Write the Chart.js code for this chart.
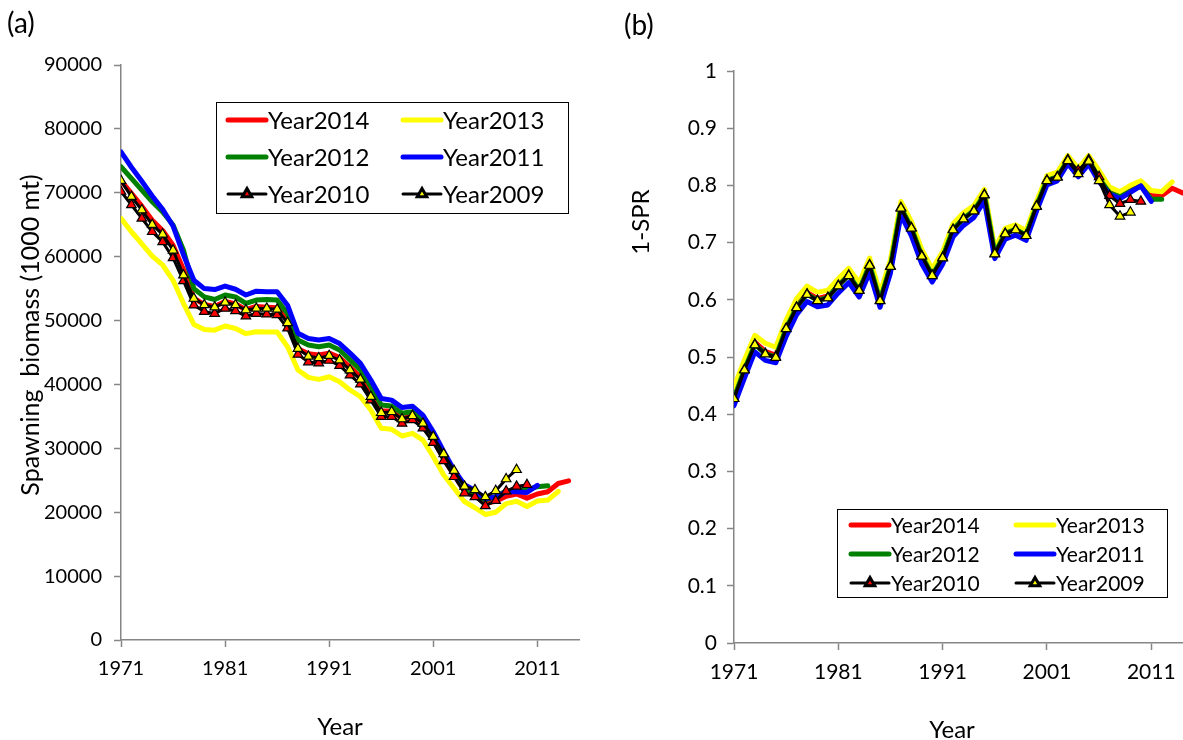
<!DOCTYPE html>
<html>
<head>
<meta charset="utf-8">
<title>Spawning biomass and 1-SPR by assessment year</title>
<script src="https://cdn.jsdelivr.net/npm/chart.js@4.4.1/dist/chart.umd.min.js"></script>
<style>
  html, body { margin: 0; padding: 0; background: #fff; overflow: hidden; }
  body { width: 1183px; height: 740px; position: relative; font-family: Lato, "Open Sans", sans-serif; color: #000; }
  canvas { position: absolute; top: 0; }
  #biomassChart { left: 0; }
  #sprChart { left: 600px; }
  .label { position: absolute; white-space: pre; line-height: 1; }
  .panel-tag { font-size: 28px; }
  .axis-title { font-size: 24px; transform: translate(-50%, -50%); }
  .axis-title.vertical { transform: translate(-50%, -50%) rotate(-90deg); }
</style>
</head>
<body>
<canvas id="biomassChart" width="600" height="740"></canvas>
<canvas id="sprChart" width="600" height="740"></canvas>
<div class="label panel-tag" style="left:7px;top:8px">(a)</div>
<div class="label panel-tag" style="left:624px;top:10px">(b)</div>
<div class="label axis-title vertical" style="left:29px;top:335px;font-size:25px">Spawning  biomass (1000 mt)</div>
<div class="label axis-title vertical" style="left:640px;top:222px">1-SPR</div>
<div class="label axis-title" style="left:340px;top:726px">Year</div>
<div class="label axis-title" style="left:952px;top:729px">Year</div>
<script>
const years = [
  1971, 1972, 1973, 1974, 1975, 1976, 1977, 1978, 1979, 1980,
  1981, 1982, 1983, 1984, 1985, 1986, 1987, 1988, 1989, 1990,
  1991, 1992, 1993, 1994, 1995, 1996, 1997, 1998, 1999, 2000,
  2001, 2002, 2003, 2004, 2005, 2006, 2007, 2008, 2009, 2010,
  2011, 2012, 2013, 2014,
];
const xTickYears = [1971, 1981, 1991, 2001, 2011];
const legendOrder = ["Year2014", "Year2013", "Year2012", "Year2011", "Year2010", "Year2009"];

// (a) spawning biomass, 1000 mt
const spawnY2014 = [
  71900, 69900, 67900, 65700, 64100, 61800, 58000, 53500, 52500, 52200,
  53000, 52600, 51700, 52200, 52100, 52000, 50000, 45600, 44800, 44600,
  44900, 44200, 42700, 41200, 38600, 35900, 35800, 34700, 35000, 33800,
  31300, 28400, 25800, 23400, 22600, 21400, 21700, 22500, 22850, 22200,
  22850, 23200, 24500, 24900,
];
const spawnY2013 = [
  66000, 63900, 62000, 60100, 58700, 56300, 52700, 49400, 48600, 48500,
  49150, 48750, 47950, 48250, 48200, 48200, 45900, 42260, 41110, 40800,
  41210, 40430, 39130, 38080, 35990, 33130, 32970, 31930, 32350, 31300,
  28690, 25820, 23740, 21650, 20700, 19650, 20000, 21350, 21700, 20900,
  21750, 21900, 23250,
];
const spawnY2012 = [
  74070, 72250, 70400, 68600, 67000, 64950, 61000, 55000, 53700, 53300,
  54000, 53700, 52700, 53200, 53300, 53200, 51100, 46950, 46170, 45900,
  46170, 45390, 43820, 42260, 39650, 36780, 36620, 35480, 35730, 34430,
  31820, 28800, 26080, 23740, 22950, 21910, 22500, 23300, 23400, 23500,
  24000, 24150,
];
const spawnY2011 = [
  76400, 74000, 71800, 69500, 67400, 64800, 60300, 56300, 55000, 54850,
  55400, 54900, 54000, 54600, 54500, 54500, 52400, 48000, 47200, 46950,
  47200, 46400, 44900, 43300, 40700, 37800, 37550, 36400, 36600, 35200,
  32600, 29500, 26600, 24300, 23400, 22100, 22400, 23200, 23200, 23100,
  24200,
];
const spawnY2010 = [
  70200, 68100, 66000, 63900, 62300, 59800, 56200, 52400, 51400, 51100,
  51900, 51500, 50700, 51100, 51000, 50900, 48800, 44700, 43500, 43350,
  43750, 42950, 41450, 40050, 37550, 34950, 34950, 33900, 34450, 33150,
  30900, 28050, 25550, 23000, 22400, 21000, 21800, 23300, 24050, 24300,
];
const spawnY2009 = [
  71900, 69400, 67300, 65000, 63500, 61000, 57100, 53450, 52450, 52100,
  52850, 52450, 51650, 51900, 51900, 51750, 49650, 45600, 44400, 44150,
  44500, 43800, 42250, 40800, 38080, 35570, 35730, 34590, 35100, 33910,
  31820, 29110, 26500, 24050, 23500, 22400, 23350, 25200, 26650,
];

// (b) 1-SPR
const sprY2014 = [
  0.432, 0.481, 0.526, 0.510, 0.503, 0.553, 0.590, 0.613, 0.602, 0.607,
  0.628, 0.646, 0.620, 0.664, 0.602, 0.662, 0.764, 0.729, 0.680, 0.646,
  0.677, 0.726, 0.745, 0.759, 0.787, 0.684, 0.719, 0.726, 0.716, 0.767,
  0.812, 0.818, 0.847, 0.826, 0.847, 0.818, 0.789, 0.782, 0.791, 0.800,
  0.782, 0.782, 0.795, 0.787,
];
const sprY2013 = [
  0.447, 0.495, 0.538, 0.524, 0.517, 0.565, 0.602, 0.624, 0.613, 0.617,
  0.637, 0.655, 0.630, 0.673, 0.612, 0.670, 0.772, 0.737, 0.688, 0.654,
  0.684, 0.733, 0.752, 0.765, 0.793, 0.690, 0.725, 0.731, 0.721, 0.772,
  0.817, 0.823, 0.852, 0.830, 0.852, 0.826, 0.797, 0.789, 0.800, 0.808,
  0.791, 0.789, 0.806,
];
const sprY2012 = [
  0.428, 0.478, 0.522, 0.506, 0.500, 0.550, 0.587, 0.610, 0.599, 0.604,
  0.625, 0.643, 0.617, 0.661, 0.599, 0.659, 0.761, 0.726, 0.677, 0.643,
  0.674, 0.723, 0.742, 0.756, 0.784, 0.681, 0.716, 0.723, 0.713, 0.764,
  0.809, 0.815, 0.844, 0.822, 0.844, 0.812, 0.787, 0.780, 0.790, 0.799,
  0.776, 0.776,
];
const sprY2011 = [
  0.415, 0.463, 0.509, 0.494, 0.490, 0.536, 0.574, 0.597, 0.588, 0.591,
  0.612, 0.630, 0.605, 0.648, 0.587, 0.647, 0.748, 0.712, 0.663, 0.631,
  0.662, 0.710, 0.730, 0.744, 0.773, 0.672, 0.706, 0.713, 0.704, 0.755,
  0.801, 0.808, 0.838, 0.815, 0.837, 0.806, 0.785, 0.777, 0.788, 0.799,
  0.772,
];
const sprY2010 = [
  0.428, 0.478, 0.522, 0.506, 0.500, 0.550, 0.587, 0.610, 0.599, 0.604,
  0.625, 0.643, 0.617, 0.661, 0.599, 0.659, 0.761, 0.726, 0.677, 0.643,
  0.674, 0.723, 0.742, 0.756, 0.784, 0.681, 0.716, 0.723, 0.713, 0.764,
  0.809, 0.815, 0.845, 0.826, 0.845, 0.815, 0.782, 0.768, 0.775, 0.772,
];
const sprY2009 = [
  0.427, 0.477, 0.521, 0.505, 0.499, 0.549, 0.586, 0.609, 0.598, 0.603,
  0.624, 0.642, 0.616, 0.660, 0.598, 0.658, 0.760, 0.725, 0.676, 0.642,
  0.673, 0.722, 0.741, 0.755, 0.783, 0.680, 0.715, 0.722, 0.712, 0.763,
  0.808, 0.814, 0.843, 0.820, 0.842, 0.808, 0.766, 0.746, 0.753,
];

const FONT = "Lato, 'Open Sans', sans-serif";
const AXIS_GRAY = "#868686";

function lineSet(label, data, color) {
  return {
    label,
    data,
    borderColor: color,
    backgroundColor: color,
    borderWidth: 5,
    borderJoinStyle: "round",
    borderCapStyle: "round",
    pointRadius: 0,
  };
}

function markerSet(label, data, fill) {
  return {
    label,
    data,
    borderColor: "#000",
    backgroundColor: fill,
    borderWidth: 3,
    pointStyle: "triangle",
    pointRadius: 5.5,
    pointBackgroundColor: fill,
    pointBorderColor: "#000",
    pointBorderWidth: 1.2,
  };
}

// first dataset ends up on top, so the oldest run goes first
function buildDatasets(s) {
  return [
    markerSet("Year2009", s[2009], "#FFFF00"),
    markerSet("Year2010", s[2010], "#FF0000"),
    lineSet("Year2011", s[2011], "#0000FF"),
    lineSet("Year2012", s[2012], "#008000"),
    lineSet("Year2013", s[2013], "#FFFF00"),
    lineSet("Year2014", s[2014], "#FF0000"),
  ];
}

// framed two-column legend drawn inside the plot
const boxLegend = {
  id: "boxLegend",
  afterDatasetsDraw(chart, args, opts) {
    const { ctx } = chart;
    ctx.save();
    ctx.fillStyle = "#fff";
    ctx.fillRect(opts.x, opts.y, opts.w, opts.h);
    ctx.strokeStyle = "#000";
    ctx.lineWidth = 1;
    ctx.strokeRect(opts.x + 0.5, opts.y + 0.5, opts.w, opts.h);
    ctx.font = `${opts.fontSize}px ${FONT}`;
    ctx.textBaseline = "middle";
    legendOrder.forEach((name, i) => {
      const ds = chart.data.datasets.find((d) => d.label === name);
      const lx = opts.x + opts.pad + (i % 2) * opts.colW;
      const ly = opts.y + opts.rowTop + Math.floor(i / 2) * opts.rowH;
      ctx.strokeStyle = ds.borderColor;
      ctx.lineWidth = ds.borderWidth;
      ctx.lineCap = "round";
      ctx.beginPath();
      ctx.moveTo(lx, ly);
      ctx.lineTo(lx + opts.sample, ly);
      ctx.stroke();
      if (ds.pointRadius > 0) {
        ctx.fillStyle = ds.pointBackgroundColor;
        ctx.strokeStyle = "#000";
        Chart.helpers.drawPoint(ctx, { pointStyle: "triangle", radius: ds.pointRadius, borderWidth: 1, rotation: 0 }, lx + opts.sample / 2, ly);
      }
      ctx.fillStyle = "#000";
      ctx.fillText(name, lx + opts.sample + 2, ly + 1);
    });
    ctx.restore();
  },
};

function makeChart(id, datasets, cfg) {
  return new Chart(document.getElementById(id), {
    type: "line",
    data: { labels: years, datasets },
    plugins: [boxLegend],
    options: {
      responsive: false,
      animation: false,
      devicePixelRatio: 1,
      events: [],
      layout: { padding: cfg.padding },
      elements: { line: { tension: 0 } },
      plugins: {
        legend: { display: false },
        tooltip: { enabled: false },
        boxLegend: cfg.legend,
      },
      scales: {
        x: {
          type: "linear",
          min: 1971,
          max: 2015,
          afterBuildTicks: (scale) => {
            scale.ticks = xTickYears.map((value) => ({ value }));
          },
          afterFit: (scale) => {
            scale.height = 40;
          },
          border: { color: AXIS_GRAY, width: 1.5 },
          grid: { drawOnChartArea: false, tickLength: 7, tickWidth: 1.5, tickColor: AXIS_GRAY },
          ticks: {
            color: "#000",
            font: { family: FONT, size: cfg.fontSize },
            padding: 10,
            maxRotation: 0,
            autoSkip: false,
            callback: (v) => String(v),
          },
        },
        y: {
          min: 0,
          max: cfg.yMax,
          afterFit: (scale) => {
            scale.width = cfg.yWidth;
          },
          border: { color: AXIS_GRAY, width: 1.5 },
          grid: { drawOnChartArea: false, tickLength: 7, tickWidth: 1.5, tickColor: AXIS_GRAY },
          ticks: {
            stepSize: cfg.yStep,
            color: "#000",
            font: { family: FONT, size: cfg.fontSize },
            padding: cfg.yPad,
            callback: cfg.yFormat,
          },
        },
      },
    },
  });
}

makeChart(
  "biomassChart",
  buildDatasets({ 2009: spawnY2009, 2010: spawnY2010, 2011: spawnY2011, 2012: spawnY2012, 2013: spawnY2013, 2014: spawnY2014 }),
  {
    padding: { left: 0, top: 65, right: 21, bottom: 60 },
    yWidth: 121,
    yMax: 90000,
    yStep: 10000,
    yPad: 12,
    fontSize: 20,
    yFormat: (v) => String(v),
    legend: { x: 216, y: 102, w: 352, h: 111, pad: 12, colW: 175, sample: 38, rowTop: 18, rowH: 37, fontSize: 24 },
  }
);

makeChart(
  "sprChart",
  buildDatasets({ 2009: sprY2009, 2010: sprY2010, 2011: sprY2011, 2012: sprY2012, 2013: sprY2013, 2014: sprY2014 }),
  {
    padding: { left: 0, top: 71, right: 7, bottom: 57 },
    yWidth: 134,
    yMax: 1,
    yStep: 0.1,
    yPad: 10,
    fontSize: 21,
    yFormat: (v) => String(Math.round(v * 10) / 10),
    legend: { x: 237, y: 509, w: 330, h: 88, pad: 14, colW: 165, sample: 38, rowTop: 16, rowH: 29, fontSize: 21 },
  }
);
</script>
</body>
</html>
